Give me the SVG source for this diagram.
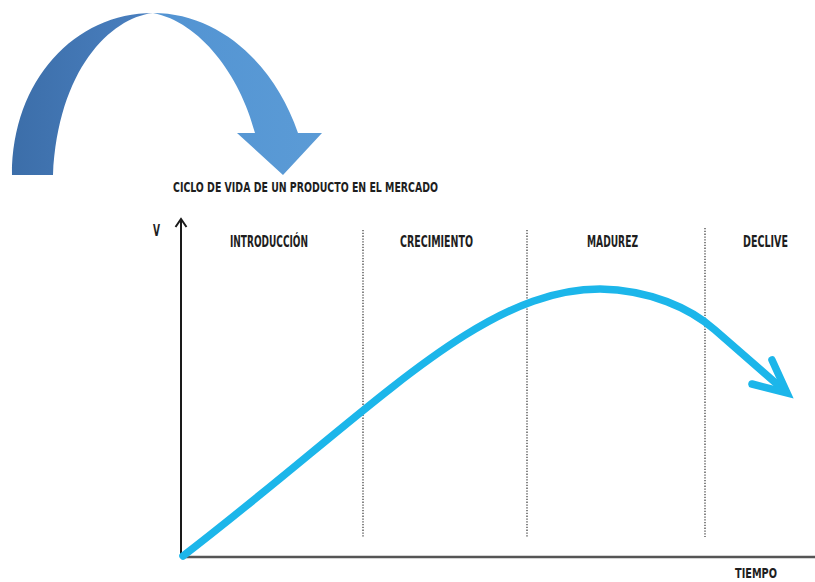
<svg xmlns="http://www.w3.org/2000/svg" width="815" height="582" viewBox="0 0 815 582">
  <defs>
    <linearGradient id="gL" x1="0" y1="0" x2="1" y2="0">
      <stop offset="0" stop-color="#3c6ea9"/>
      <stop offset="1" stop-color="#4a80c0"/>
    </linearGradient>
    <linearGradient id="gR" x1="0" y1="0" x2="1" y2="0">
      <stop offset="0" stop-color="#5293d2"/>
      <stop offset="1" stop-color="#5b9bd6"/>
    </linearGradient>
  </defs>
  <style>
    .lbl{font-family:"Liberation Sans Narrow","DejaVu Sans Condensed","Liberation Sans",sans-serif;font-weight:bold;fill:#1e1e1e;}
    .div{stroke:#444;stroke-width:1.3;stroke-dasharray:1.3 1.5;fill:none;}
  </style>
  <rect width="815" height="582" fill="#ffffff"/>

  <g id="curved-arrow">
    <path d="M12,175 C12,80 75,13 153,13 C110,18 58,70 53,175 Z" fill="url(#gL)"/>
    <path d="M153,13 C220,13 275,65 298,133 L322,133 L283,175 L237,133 L255,133 C240,75 200,22 153,13 Z" fill="url(#gR)"/>
  </g>

  <g id="title">
    <text class="lbl" x="173" y="192" font-size="14" textLength="265" lengthAdjust="spacingAndGlyphs">CICLO DE VIDA DE UN PRODUCTO EN EL MERCADO</text>
  </g>

  <g id="axes">
    <line x1="181" y1="219" x2="181" y2="557" stroke="#1a1a1a" stroke-width="2"/>
    <polyline points="175.5,227 181,219 186.5,227" fill="none" stroke="#1a1a1a" stroke-width="2"/>
    <line x1="181" y1="557" x2="815" y2="557" stroke="#555" stroke-width="2.5"/>
    <text class="lbl" x="153" y="236" font-size="15" textLength="7" lengthAdjust="spacingAndGlyphs">V</text>
    <text class="lbl" x="735" y="578" font-size="14" textLength="42" lengthAdjust="spacingAndGlyphs">TIEMPO</text>
  </g>

  <g id="dividers">
    <line class="div" x1="363" y1="230" x2="363" y2="537"/>
    <line class="div" x1="527" y1="230" x2="527" y2="537"/>
    <line class="div" x1="705" y1="228" x2="705" y2="537"/>
  </g>

  <g id="stage-introduccion">
    <text class="lbl" x="230" y="247" font-size="15" textLength="78" lengthAdjust="spacingAndGlyphs">INTRODUCCIÓN</text>
  </g>
  <g id="stage-crecimiento">
    <text class="lbl" x="400" y="247" font-size="15" textLength="73" lengthAdjust="spacingAndGlyphs">CRECIMIENTO</text>
  </g>
  <g id="stage-madurez">
    <text class="lbl" x="587" y="247" font-size="15" textLength="51" lengthAdjust="spacingAndGlyphs">MADUREZ</text>
  </g>
  <g id="stage-declive">
    <text class="lbl" x="743" y="247" font-size="15" textLength="45" lengthAdjust="spacingAndGlyphs">DECLIVE</text>
  </g>

  <g id="connectors">
    <path d="M183,556 C373,410 480,289 600,289 C650,290 690,308 715,330 L786,392" fill="none" stroke="#1cb6ea" stroke-width="7.5" stroke-linecap="round"/>
    <polyline points="772,360 787,393 752,384" fill="none" stroke="#1cb6ea" stroke-width="7.5" stroke-linecap="round" stroke-linejoin="miter"/>
  </g>
</svg>
